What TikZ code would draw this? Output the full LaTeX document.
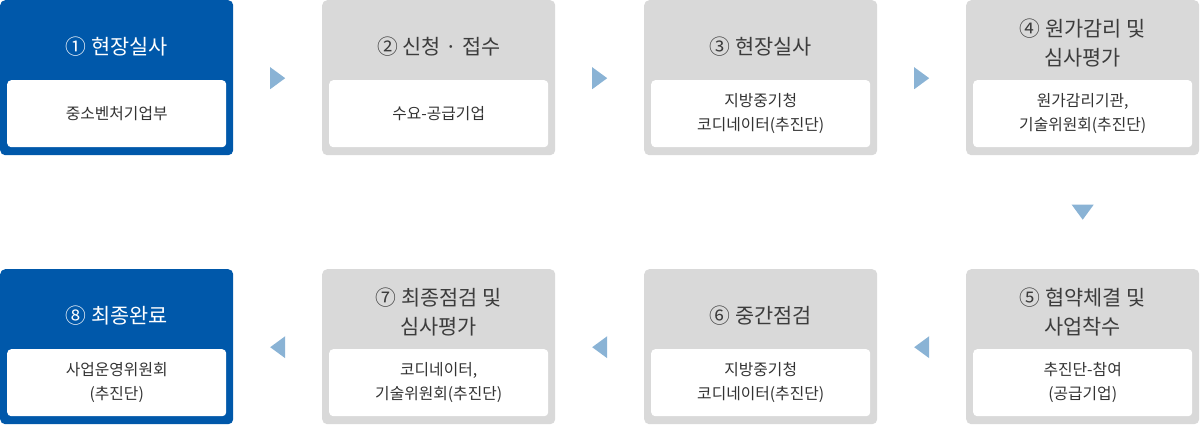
\documentclass[tikz,border=0pt]{standalone}
\usepackage{fontspec}
\setmainfont{Noto Sans CJK KR}
\usetikzlibrary{calc}
\definecolor{boxblue}{HTML}{0058AA}
\definecolor{boxgray}{HTML}{D9D9D9}
\definecolor{arrowc}{HTML}{8AB3D5}
\definecolor{titlegray}{HTML}{3C3C3C}
\definecolor{textgray}{HTML}{333333}
\newcommand{\nsp}{\hspace{5pt}}
\tikzset{
  outerbox/.style={rounded corners=5pt, minimum width=233pt, minimum height=155pt, anchor=north west, inner sep=0pt},
  bluebox/.style={outerbox, fill=boxblue},
  graybox/.style={outerbox, fill=boxgray},
  innerbox/.style={fill=white, rounded corners=4pt, minimum width=219pt, minimum height=67pt, anchor=north, inner sep=0pt, align=center, text=textgray, font=\fontsize{15.8pt}{24pt}\selectfont},
  titletext/.style={align=center, inner sep=0pt, font=\fontsize{20.8pt}{29pt}\selectfont},
  graytitle/.style={titletext, text=titlegray},
  bluetitle/.style={titletext, text=white},
}
\begin{document}
\begin{tikzpicture}[x=1pt,y=-1pt]
\useasboundingbox (0,0) rectangle (1200,425);
% row 1
\node[bluebox] (b1) at (0,0) {};
\node[graybox] (b2) at (322,0) {};
\node[graybox] (b3) at (644,0) {};
\node[graybox] (b4) at (966,0) {};
% row 2
\node[bluebox] (b8) at (0,269) {};
\node[graybox] (b7) at (322,269) {};
\node[graybox] (b6) at (644,269) {};
\node[graybox] (b5) at (966,269) {};
% titles
\node[bluetitle] (t1) at ([yshift=-47pt]b1.north) {①\nsp 현장실사};
\node[graytitle] (t2) at ([yshift=-47pt]b2.north) {②\nsp 신청 · 접수};
\node[graytitle] (t3) at ([yshift=-47pt]b3.north) {③\nsp 현장실사};
\node[graytitle] (t4) at ([yshift=-43pt]b4.north) {④\nsp 원가감리 및\\심사평가};
\node[graytitle] (t5) at ([yshift=-43pt]b5.north) {⑤\nsp 협약체결 및\\사업착수};
\node[graytitle] (t6) at ([yshift=-47pt]b6.north) {⑥\nsp 중간점검};
\node[graytitle] (t7) at ([yshift=-43pt]b7.north) {⑦\nsp 최종점검 및\\심사평가};
\node[bluetitle] (t8) at ([yshift=-47pt]b8.north) {⑧\nsp 최종완료};
% inner boxes
\node[innerbox] (i1) at ([yshift=-80pt]b1.north) {중소벤처기업부};
\node[innerbox] (i2) at ([yshift=-80pt]b2.north) {수요-공급기업};
\node[innerbox] (i3) at ([yshift=-80pt]b3.north) {지방중기청\\코디네이터(추진단)};
\node[innerbox] (i4) at ([yshift=-80pt]b4.north) {원가감리기관,\\기술위원회(추진단)};
\node[innerbox] (i5) at ([yshift=-80pt]b5.north) {추진단-참여\\(공급기업)};
\node[innerbox] (i6) at ([yshift=-80pt]b6.north) {지방중기청\\코디네이터(추진단)};
\node[innerbox] (i7) at ([yshift=-80pt]b7.north) {코디네이터,\\기술위원회(추진단)};
\node[innerbox] (i8) at ([yshift=-80pt]b8.north) {사업운영위원회\\(추진단)};
% arrows (triangles)
\foreach \a/\b in {b1/b2, b2/b3, b3/b4}{
  \coordinate (m) at ($(\a.east)!0.5!(\b.west)+(0,0.5)$);
  \fill[arrowc] ($(m)+(-7.5,-11)$) -- ($(m)+(7.5,0)$) -- ($(m)+(-7.5,11)$) -- cycle;
}
\foreach \a/\b in {b5/b6, b6/b7, b7/b8}{
  \coordinate (m) at ($(\a.west)!0.5!(\b.east)+(0,0.5)$);
  \fill[arrowc] ($(m)+(7.5,-11)$) -- ($(m)+(-7.5,0)$) -- ($(m)+(7.5,11)$) -- cycle;
}
\coordinate (d) at ($(b4.south)!0.5!(b5.north)$);
\fill[arrowc] ($(d)+(-11,-7.5)$) -- ($(d)+(11,-7.5)$) -- ($(d)+(0,7.5)$) -- cycle;
\end{tikzpicture}
\end{document}
